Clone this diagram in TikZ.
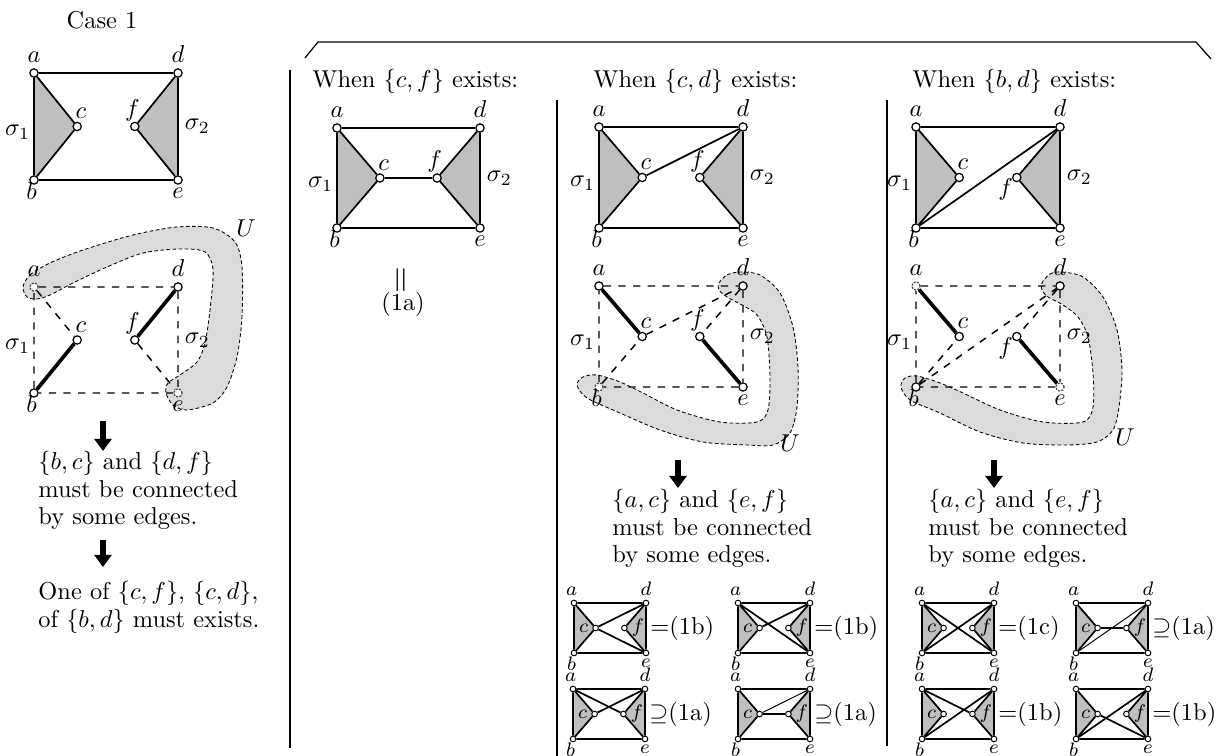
\documentclass[tikz,border=0pt]{standalone}
\usetikzlibrary{arrows.meta,backgrounds,calc,positioning}

\definecolor{trigray}{gray}{0.75}
\definecolor{ugray}{gray}{0.86}

% six vertices: a, d on top, b, e below, c and f inside
\newcommand{\graphnodes}[6]{%
    \node[#6, #1a/.try] (#1a) at (#2,#3) {};%
    \node[#6, #1d/.try] (#1d) at ({#2+#4},#3) {};%
    \node[#6, #1b/.try] (#1b) at (#2,{#3+#5}) {};%
    \node[#6, #1e/.try] (#1e) at ({#2+#4},{#3+#5}) {};%
    \node[#6, #1c/.try] (#1c) at ({#2+0.3*#4},{#3+#5/2}) {};%
    \node[#6, #1f/.try] (#1f) at ({#2+0.7*#4},{#3+#5/2}) {};%
}
% rectangle and the two shaded wedges
\newcommand{\solidgraph}[2]{%
    \begin{pgfonlayer}{background}
        \fill[trigray] (#1a.center) -- (#1b.center) -- (#1c.center) -- cycle
                       (#1d.center) -- (#1e.center) -- (#1f.center) -- cycle;
    \end{pgfonlayer}
    \draw[#2] (#1a) -- (#1d) (#1b) -- (#1e) (#1a) -- (#1b) (#1d) -- (#1e)
              (#1a) -- (#1c) -- (#1b) (#1d) -- (#1f) -- (#1e);%
}
% names of the vertices in the big graphs
\newcommand{\biglabels}[2]{%
    \node[lbl, above=1pt of #1a] (#1la) {$a$};%
    \node[lbl, above=1pt of #1d] (#1ld) {$d$};%
    \node[lbl, below=-2pt of #1b, xshift=-1pt] (#1lb) {$b$};%
    \node[lbl, below=0pt of #1e] (#1le) {$e$};%
    \node[lbl, above=0pt of #1c, xshift=1.5pt] (#1lc) {$c$};%
    \node[lbl, #2 #1f] (#1lf) {$f$};%
    \node[lbl, anchor=east] (#1s1) at ($(#1a)!0.5!(#1b)+(-1,6)$) {$\sigma_1$};%
    \node[lbl, anchor=west] (#1s2) at ($(#1d)!0.5!(#1e)+(4,0)$) {$\sigma_2$};%
}
% one of the small graphs with its relation
\newcommand{\smallgraph}[4]{%
    \graphnodes{#1}{#2}{#3}{72}{50}{svtx}
    \solidgraph{#1}{sedge}
    \node[slbl, above=0.5pt of #1a, xshift=-1pt] (#1la) {$a$};%
    \node[slbl, above=0.5pt of #1d] (#1ld) {$d$};%
    \node[slbl, below=-1pt of #1b, xshift=-1pt] (#1lb) {$b$};%
    \node[slbl, below=0pt of #1e] (#1le) {$e$};%
    \node[slbl, left=0.5pt of #1c] (#1lc) {$c$};%
    \node[slbl, right=0.5pt of #1f] (#1lf) {$f$};%
    \node[rel, anchor=west] (#1rel) at ($(#1d)!0.5!(#1e)+(4,0)$) {#4};%
}

\begin{document}
\begin{tikzpicture}[x=0.144mm, y=-0.144mm,
    vtx/.style={circle, draw, fill=white, inner sep=0pt, minimum size=3.4pt, line width=0.5pt},
    svtx/.style={circle, draw, fill=white, inner sep=0pt, minimum size=2.3pt, line width=0.4pt},
    dotvtx/.style={dash pattern=on 0.8pt off 0.6pt, draw=black!75},
    edge/.style={line width=0.7pt},
    sedge/.style={line width=0.7pt},
    thinedge/.style={line width=0.4pt},
    gone/.style={dashed, line width=0.6pt},
    kept/.style={line width=1.5pt},
    region/.style={fill=ugray, draw, line width=0.35pt, dash pattern=on 1.5pt off 1pt},
    lbl/.style={inner sep=1pt},
    slbl/.style={inner sep=1pt, font=\footnotesize},
    rel/.style={inner sep=0pt},
    head/.style={anchor=west, inner sep=0pt},
    note/.style={align=left, inner sep=0pt, font=\fontsize{10}{11.2}\selectfont},
    bigarrow/.style={line width=2.8pt, -{Triangle[width=7pt, length=5pt]}},
    oneu-a/.style=dotvtx, oneu-e/.style=dotvtx, cdu-b/.style=dotvtx,
    bdu-a/.style=dotvtx, bdu-e/.style=dotvtx]

    \useasboundingbox (0,0) rectangle (1229,756);

    % --- Case 1: the two wedges ---
    \node (casehead) at (102,20) {Case 1};
    \graphnodes{one-}{34}{73}{144}{107}{vtx}
    \solidgraph{one-}{edge}
    \biglabels{one-}{xshift=-1pt, above=-1pt of}

    % --- Case 1: the region U ---
    \graphnodes{oneu-}{34}{287}{144}{106}{vtx}
    \draw[gone] (oneu-a) -- (oneu-d) -- (oneu-e) -- (oneu-b) -- (oneu-a)
                (oneu-a) -- (oneu-c) (oneu-f) -- (oneu-e);
    \draw[kept] (oneu-b) -- (oneu-c) (oneu-d) -- (oneu-f);
    \biglabels{oneu-}{xshift=-1pt, above=-1pt of}
    \begin{pgfonlayer}{background}
        \draw[region] plot[smooth cycle, tension=0.5] coordinates {
            (23,287) (30,275) (50,263) (83,250) (133,235) (177,227) (213,228)
            (235,242) (242,267) (242,317) (237,357) (227,387) (213,403) (187,410)
            (173,405) (166,393) (168,383) (180,375) (197,362) (205,343) (210,310)
            (213,270) (205,252) (180,249) (143,253) (107,267) (73,283) (50,295)
            (37,299) (27,297)};
    \end{pgfonlayer}
    \node (oneu-U) at (246,228) {$U$};

    % --- Case 1: conclusions ---
    \coordinate (onearr1s) at (103,421);
    \coordinate (onearr1e) at (103,451);
    \draw[bigarrow] (onearr1s) -- (onearr1e);
    \node[note, anchor=north west] (onenote1) at (38,451)
        {$\{b,c\}$ and $\{d,f\}$\\must be connected\\by some edges.};
    \coordinate (onearr2s) at (103,540);
    \coordinate (onearr2e) at (103,567);
    \draw[bigarrow] (onearr2s) -- (onearr2e);
    \node[note, anchor=north west] (onenote2) at (38,581)
        {One of $\{c,f\}$, $\{c,d\}$,\\of $\{b,d\}$ must exists.};

    % --- frame of the three cases ---
    \draw[line width=0.5pt] (290,70) -- (290,748);
    \draw[line width=0.5pt] (557,100) -- (557,756);
    \draw[line width=0.5pt] (887,100) -- (887,746);
    \draw[line width=0.5pt] (305,58) -- (318,42) -- (1196,42) -- (1211,59);

    % --- when {c,f} exists ---
    \node[head] (cfhead) at (312,81) {When $\{c,f\}$ exists:};
    \graphnodes{cf-}{337}{128}{143}{100}{vtx}
    \solidgraph{cf-}{edge}
    \draw[edge] (cf-c) -- (cf-f);
    \biglabels{cf-}{xshift=-1pt, above=-1pt of}
    \node[rotate=90, font=\Large] (cf-eq) at (403,280) {$=$};
    \node (cf-name) at (403,304) {(1a)};

    % --- when {c,d} exists ---
    \node[head] (cdhead) at (593,81) {When $\{c,d\}$ exists:};
    \graphnodes{cd-}{599}{127}{144}{101}{vtx}
    \solidgraph{cd-}{edge}
    \draw[edge] (cd-c) -- (cd-d);
    \biglabels{cd-}{xshift=-1pt, above=-1pt of}

    \graphnodes{cdu-}{599}{286}{144}{101}{vtx}
    \draw[gone] (cdu-a) -- (cdu-d) -- (cdu-e) -- (cdu-b) -- (cdu-a)
                (cdu-b) -- (cdu-c) -- (cdu-d) (cdu-d) -- (cdu-f);
    \draw[kept] (cdu-a) -- (cdu-c) (cdu-f) -- (cdu-e);
    \biglabels{cdu-}{xshift=-1pt, above=-1pt of}
    \begin{pgfonlayer}{background}
        \draw[region] plot[smooth cycle, tension=0.5] coordinates {
            (719,283) (727,275) (740,272) (760,275) (780,293) (793,327) (798,367)
            (797,407) (790,433) (773,445) (747,445) (703,442) (660,430) (620,413)
            (587,398) (577,385) (583,377) (597,375) (620,382) (643,393) (677,410)
            (720,422) (757,422) (768,410) (770,377) (767,337) (757,315) (742,305)
            (727,297) (719,290)};
    \end{pgfonlayer}
    \node (cdu-U) at (790,443) {$U$};

    \coordinate (cdarrs) at (678,460);
    \coordinate (cdarre) at (678,488);
    \draw[bigarrow] (cdarrs) -- (cdarre);
    \node[note, anchor=north west] (cdnote) at (612,489)
        {$\{a,c\}$ and $\{e,f\}$\\must be connected\\by some edges.};

    \smallgraph{cd1-}{574}{603}{$=$(1b)}
    \draw[sedge] (cd1-c) -- (cd1-d) (cd1-c) -- (cd1-e);
    \smallgraph{cd2-}{738}{603}{$=$(1b)}
    \draw[sedge] (cd2-c) -- (cd2-d) (cd2-a) -- (cd2-e);
    \smallgraph{cd3-}{573}{689}{$\supseteq$(1a)}
    \draw[sedge] (cd3-c) -- (cd3-d) (cd3-a) -- (cd3-f);
    \smallgraph{cd4-}{738}{689}{$\supseteq$(1a)}
    \draw[thinedge] (cd4-c) -- (cd4-d);
    \draw[sedge] (cd4-c) -- (cd4-f);

    % --- when {b,d} exists ---
    \node[head] (bdhead) at (912,81) {When $\{b,d\}$ exists:};
    \graphnodes{bd-}{916}{127}{144}{101}{vtx}
    \solidgraph{bd-}{edge}
    \draw[edge] (bd-b) -- (bd-d);
    \biglabels{bd-}{below left=-2pt and -1pt of}

    \graphnodes{bdu-}{916}{286}{144}{101}{vtx}
    \draw[gone] (bdu-a) -- (bdu-d) -- (bdu-e) -- (bdu-b) -- (bdu-a)
                (bdu-b) -- (bdu-c) (bdu-b) -- (bdu-d) (bdu-d) -- (bdu-f);
    \draw[kept] (bdu-a) -- (bdu-c) (bdu-f) -- (bdu-e);
    \biglabels{bdu-}{below left=-2pt and -1pt of}
    \begin{pgfonlayer}{background}
        \draw[region] plot[smooth cycle, tension=0.5] coordinates {
            (1042,283) (1050,274) (1062,272) (1083,277) (1103,297) (1117,330)
            (1122,370) (1119,407) (1113,430) (1097,442) (1067,445) (1023,443)
            (980,432) (940,413) (910,400) (901,387) (905,378) (917,376) (940,383)
            (963,393) (1000,410) (1043,422) (1083,422) (1093,407) (1093,373)
            (1088,337) (1078,317) (1063,305) (1048,297) (1042,290)};
    \end{pgfonlayer}
    \node (bdu-U) at (1125,437) {$U$};

    \coordinate (bdarrs) at (994,460);
    \coordinate (bdarre) at (994,488);
    \draw[bigarrow] (bdarrs) -- (bdarre);
    \node[note, anchor=north west] (bdnote) at (928,489)
        {$\{a,c\}$ and $\{e,f\}$\\must be connected\\by some edges.};

    \smallgraph{bd1-}{922}{603}{$=$(1c)}
    \draw[sedge] (bd1-b) -- (bd1-d) (bd1-a) -- (bd1-e);
    \smallgraph{bd2-}{1076}{603}{$\supseteq$(1a)}
    \draw[thinedge] (bd2-b) -- (bd2-d);
    \draw[sedge] (bd2-c) -- (bd2-f);
    \smallgraph{bd3-}{922}{689}{$=$(1b)}
    \draw[sedge] (bd3-b) -- (bd3-d) (bd3-a) -- (bd3-f);
    \smallgraph{bd4-}{1076}{689}{$=$(1b)}
    \draw[sedge] (bd4-b) -- (bd4-d) (bd4-c) -- (bd4-e);

\end{tikzpicture}
\end{document}
